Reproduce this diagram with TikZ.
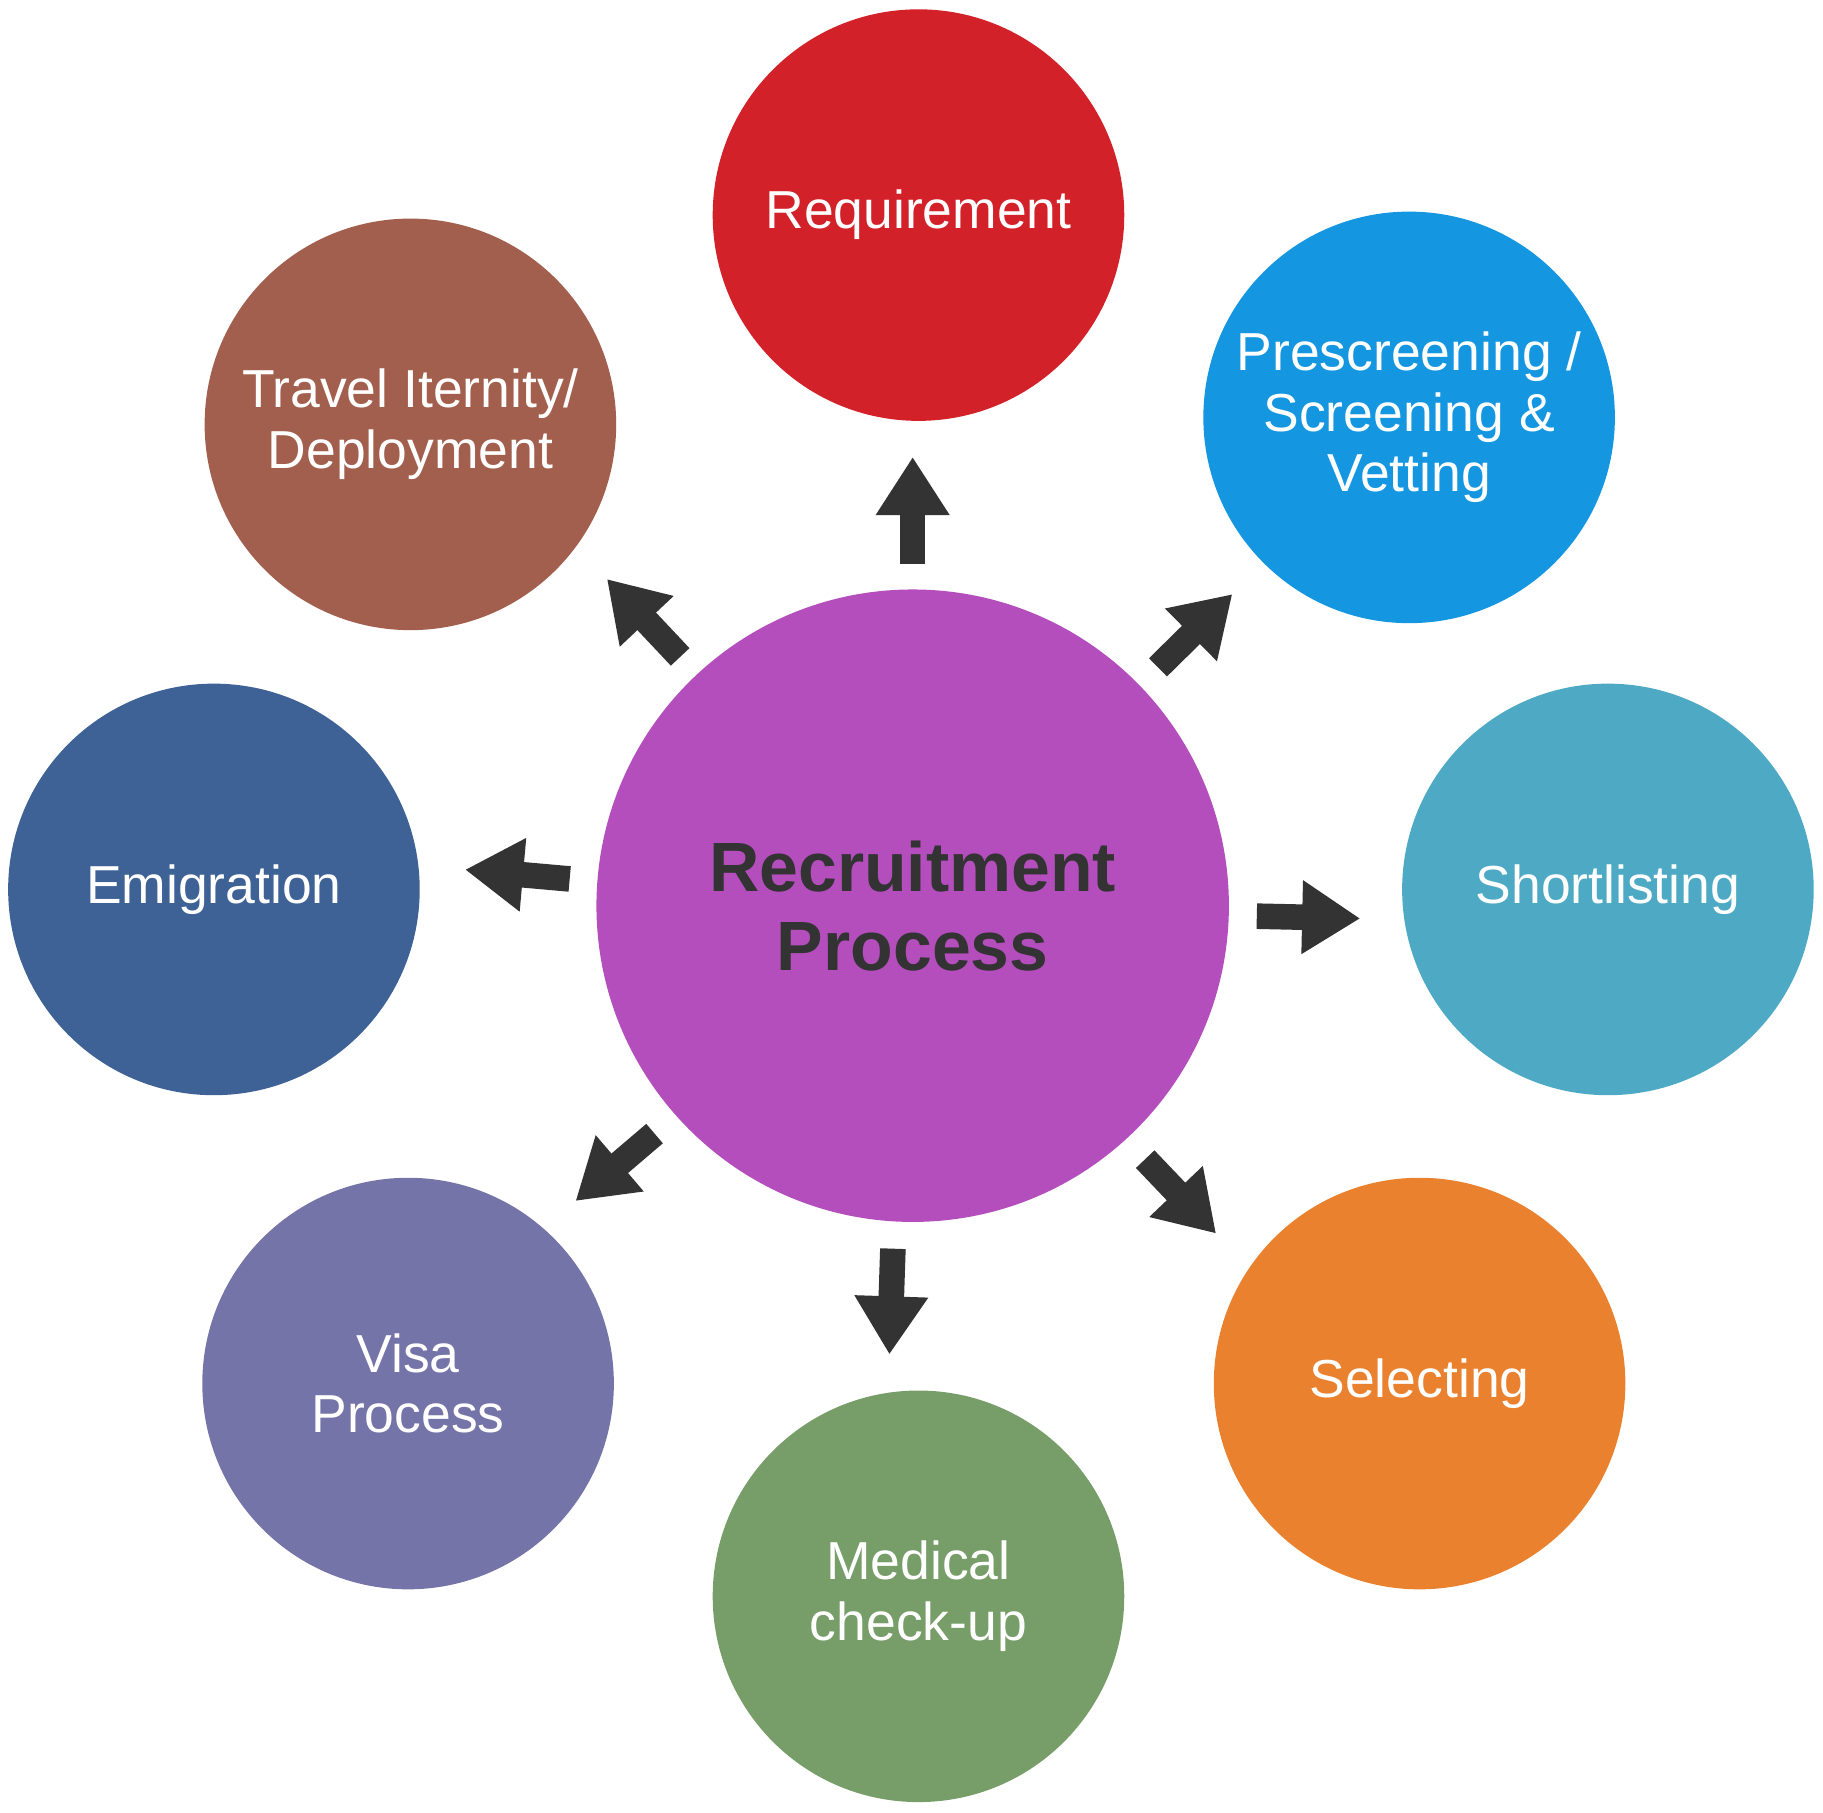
\documentclass[tikz,border=0pt]{standalone}
\usepackage{fontspec}
\setmainfont{Liberation Sans}
\usetikzlibrary{arrows.meta}
\definecolor{cred}{HTML}{D32129}
\definecolor{cblue}{HTML}{1496E0}
\definecolor{cteal}{HTML}{4EAAC4}
\definecolor{corange}{HTML}{EA812F}
\definecolor{cgreen}{HTML}{779E69}
\definecolor{cviolet}{HTML}{7474A8}
\definecolor{cnavy}{HTML}{3E6196}
\definecolor{cbrown}{HTML}{A35F4E}
\definecolor{cmag}{HTML}{B44EBC}
\definecolor{carrow}{HTML}{333333}
\begin{document}
\begin{tikzpicture}[x=0.5pt,y=-0.5pt,
  bub/.style={circle,minimum size=177pt,inner sep=0pt,text=white,font=\fontsize{23}{26}\selectfont,align=center},
  blk/.style={draw=carrow,line width=11pt,-{Triangle[width=30pt,length=25pt]}}]
\useasboundingbox (0,0) rectangle (1568,1559);
\node[circle,minimum size=272pt,fill=cmag,text=carrow,font=\bfseries\fontsize{30}{34}\selectfont,align=center] (c) at (785,779) {Recruitment\\Process};
\node[bub,fill=cred] (req) at (790,185) {Requirement};
\node[bub,fill=cblue] (pre) at (1212,359) {Prescreening /\\Screening \&\\Vetting};
\node[bub,fill=cteal] (sho) at (1383,765) {Shortlisting};
\node[bub,fill=corange] (sel) at (1221,1190) {Selecting};
\node[bub,fill=cgreen] (med) at (790,1373) {Medical\\check-up};
\node[bub,fill=cviolet] (vis) at (351,1190) {Visa\\Process};
\node[bub,fill=cnavy] (emi) at (184,765) {Emigration};
\node[bub,fill=cbrown] (tra) at (353,365) {Travel Iternity/\\Deployment};
\coordinate (a1) at (785,485); \coordinate (b1) at (785,393);
\coordinate (a2) at (996,574); \coordinate (b2) at (1060,511);
\coordinate (a3) at (1081,788); \coordinate (b3) at (1170,790);
\coordinate (a4) at (985,997); \coordinate (b4) at (1046,1061);
\coordinate (a5) at (768,1074); \coordinate (b5) at (765,1165);
\coordinate (a6) at (563,975); \coordinate (b6) at (495,1033);
\coordinate (a7) at (490,756); \coordinate (b7) at (400,748);
\coordinate (a8) at (585,565); \coordinate (b8) at (522,498);
\foreach \i in {1,...,8}{\draw[blk] (a\i) -- (b\i);}
\end{tikzpicture}
\end{document}
